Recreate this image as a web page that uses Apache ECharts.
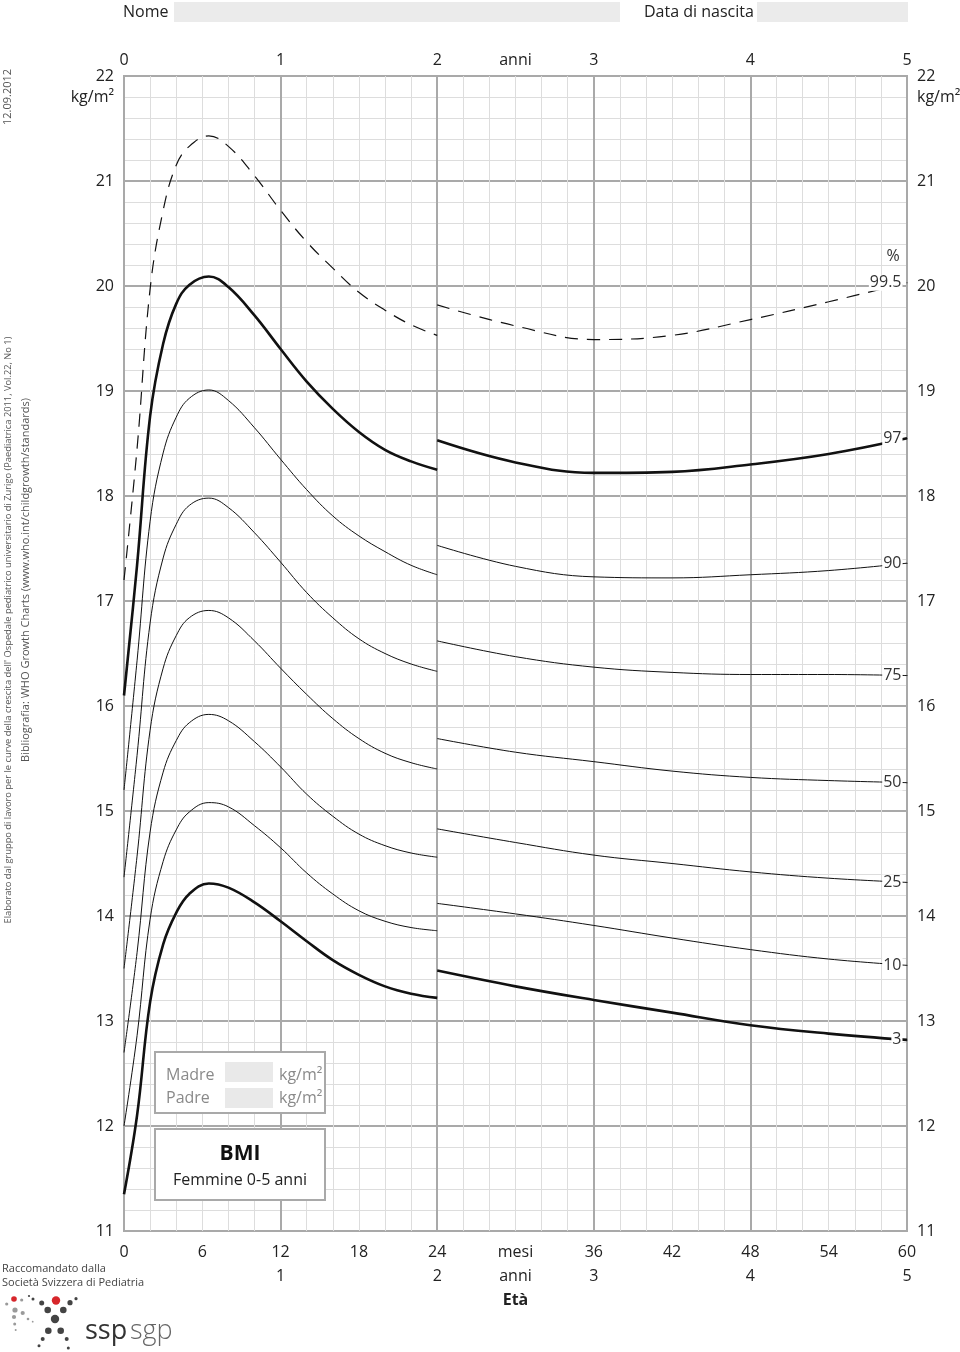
<!DOCTYPE html>
<html><head><meta charset="utf-8">
<script src="https://cdn.jsdelivr.net/npm/echarts@6/dist/echarts.min.js"></script>
<style>html,body{margin:0;padding:0;background:#fff}#c{width:960px;height:1352px}</style>
</head><body><div id="c"></div>
<script>
// ---- data (months of age, BMI kg/m2) ----
const monthsA = [0,1,2,3,4,5,6.5,8,10,12,14,16,18,20,22,24];
const monthsB = [24,30,36,42,48,54,60];
const p3A   = [11.35,12.10,13.18,13.73,14.03,14.21,14.31,14.27,14.13,13.95,13.76,13.58,13.44,13.33,13.26,13.22];
const p10A  = [12.00,12.86,13.97,14.52,14.82,14.99,15.08,15.04,14.86,14.65,14.41,14.21,14.05,13.95,13.89,13.86];
const p25A  = [12.70,13.65,14.80,15.37,15.67,15.84,15.92,15.86,15.66,15.42,15.16,14.95,14.78,14.67,14.60,14.56];
const p50A  = [13.50,14.57,15.77,16.36,16.67,16.84,16.91,16.84,16.62,16.36,16.11,15.88,15.69,15.55,15.46,15.40];
const p75A  = [14.37,15.53,16.79,17.41,17.73,17.91,17.98,17.89,17.65,17.37,17.08,16.84,16.64,16.50,16.40,16.33];
const p90A  = [15.20,16.43,17.76,18.41,18.75,18.93,19.01,18.91,18.65,18.35,18.06,17.81,17.62,17.47,17.34,17.25];
const p97A  = [16.10,17.34,18.76,19.45,19.83,20.01,20.09,19.99,19.72,19.40,19.09,18.83,18.61,18.44,18.33,18.25];
const p995A = [17.20,18.45,19.97,20.72,21.15,21.33,21.43,21.33,21.05,20.72,20.42,20.17,19.94,19.77,19.63,19.53];
const p3B   = [13.48,13.33,13.20,13.08,12.96,12.88,12.82];
const p10B  = [14.12,14.02,13.91,13.79,13.68,13.59,13.53];
const p25B  = [14.83,14.70,14.58,14.50,14.42,14.36,14.32];
const p50B  = [15.69,15.56,15.47,15.38,15.32,15.29,15.27];
const p75B  = [16.62,16.47,16.37,16.32,16.30,16.30,16.29];
const p90B  = [17.53,17.33,17.23,17.22,17.25,17.29,17.36];
const p97B  = [18.53,18.32,18.22,18.23,18.30,18.40,18.55];
const p995B = [19.82,19.62,19.49,19.53,19.68,19.85,20.03];
const percentileNames = ['3','10','25','50','75','90','97','99.5'];
const topYearLabels = {0:'0',12:'1',24:'2',30:'anni',36:'3',48:'4',60:'5'};
const bottomMonthLabels = {0:'0',6:'6',12:'12',18:'18',24:'24',30:'mesi',36:'36',42:'42',48:'48',54:'54',60:'60'};
const bottomYearLabels = {12:'1',24:'2',30:'anni',36:'3',48:'4',60:'5'};

// ---- chart ----
const FONT = 'Open Sans';
const chart = echarts.init(document.getElementById('c'), null, {renderer:'canvas'});
const segA = [p3A,p10A,p25A,p50A,p75A,p90A,p97A,p995A];
const segB = [p3B,p10B,p25B,p50B,p75B,p90B,p97B,p995B];
function styleFor(name){
  if (name === '99.5') return {color:'#111', width:1.2, type:[13,9]};
  if (name === '97' || name === '3') return {color:'#111', width:2.6};
  return {color:'#111', width:1};
}
const series = [];
percentileNames.forEach((nm, k) => {
  series.push({
    type:'line', name:'P'+nm+'a', smooth:0.4, symbol:'none', silent:true, z:5,
    lineStyle: styleFor(nm),
    data: monthsA.map((m,i)=>[m, segA[k][i]])
  });
  const dataB = monthsB.map((m,i)=>({value:[m, segB[k][i]], symbolSize:0}));
  const last = dataB.length-1;
  dataB[last] = {value: dataB[last].value, symbolSize:1,
     label:{show:true, formatter:nm, position:'left', distance:4,
     backgroundColor:'#fff', padding:[0,1,0,1], color:'#333', fontSize:16, fontFamily:FONT}};
  series.push({
    type:'line', name:'P'+nm+'b', smooth:0.4, symbol:'circle', showSymbol:true, silent:true, z:5,
    lineStyle: styleFor(nm), itemStyle:{color:'#111'},
    data: dataB
  });
});

const gray = '#a9a9a9', light = '#dddddd', txt = '#222';
const option = {
  animation:false,
  backgroundColor:'#fff',
  grid:{left:124, right:53, top:76, bottom:121, show:true, borderColor:gray, borderWidth:2},
  xAxis:[
    {type:'value', min:0, max:60, interval:12, position:'bottom',
     axisLine:{show:false}, axisTick:{show:false}, axisLabel:{show:false},
     splitLine:{show:true, lineStyle:{color:gray, width:2}},
     minorTick:{show:false, splitNumber:6},
     minorSplitLine:{show:true, lineStyle:{color:light, width:1}}},
    {type:'value', min:0, max:60, interval:6, position:'bottom',
     axisLine:{show:false}, axisTick:{show:false}, splitLine:{show:false},
     axisLabel:{show:true, interval:0, margin:9, color:txt, fontSize:16, fontFamily:FONT, lineHeight:24,
       formatter:v => {
         const a = bottomMonthLabels[v] ?? '';
         const b = bottomYearLabels[v] ?? ' ';
         return v === 30 ? a + '\n' + b + '\n{b|Età}' : a + '\n' + b;
       },
       rich:{b:{fontWeight:'bold', fontSize:16, fontFamily:FONT, color:txt, lineHeight:24}}}},
    {type:'value', min:0, max:60, interval:6, position:'top',
     axisLine:{show:false}, axisTick:{show:false}, splitLine:{show:false},
     axisLabel:{show:true, interval:0, margin:8, color:txt, fontSize:16, fontFamily:FONT,
       formatter:v => topYearLabels[v] ?? ''}}
  ],
  yAxis:[
    {type:'value', min:11, max:22, interval:1, position:'left',
     axisLine:{show:false}, axisTick:{show:false},
     axisLabel:{margin:10, color:txt, fontSize:16, fontFamily:FONT},
     splitLine:{show:true, lineStyle:{color:gray, width:2}},
     minorTick:{show:false, splitNumber:5},
     minorSplitLine:{show:true, lineStyle:{color:light, width:1}}},
    {type:'value', min:11, max:22, interval:1, position:'right',
     axisLine:{show:false}, axisTick:{show:false}, splitLine:{show:false},
     axisLabel:{margin:10, color:txt, fontSize:16, fontFamily:FONT}}
  ],
  series: series
};
chart.setOption(option);

// ---- decorations ----
const pctPos = chart.convertToPixel({xAxisIndex:0, yAxisIndex:0}, [60, p995B[p995B.length-1]]);
const dots = [
  [14,1299,2.8,'#d7262b'],[56,1300.5,4.2,'#d7262b'],
  [21.7,1300,1.6,'#9a9a9a'],[29,1296,1.1,'#444'],[33,1299,1.5,'#444'],[41.7,1303,2.5,'#444'],
  [70,1302.7,2.6,'#444'],[76,1298.7,1.6,'#444'],
  [6.7,1304,1.6,'#9a9a9a'],[15,1310,2.6,'#9a9a9a'],[22.7,1313,2.1,'#9a9a9a'],[28,1319,1.3,'#9a9a9a'],[32.7,1321.7,0.9,'#9a9a9a'],
  [14,1317,2.1,'#9a9a9a'],[14.7,1324,1.5,'#9a9a9a'],[15.7,1330,1,'#9a9a9a'],
  [47.7,1310,3.3,'#444'],[63.3,1310,3.3,'#444'],[55,1319,4.2,'#444'],[48.3,1330.7,3.3,'#444'],[60.7,1330.7,3.3,'#444'],
  [42.7,1339,2,'#444'],[66.7,1339,2,'#444'],[39,1345.7,1.5,'#444'],[68.3,1348,1.5,'#444']
];
const graphics = [
  {type:'text', left:123, top:4, style:{text:'Nome', font:'16px "'+FONT+'"', fill:txt}},
  {type:'rect', shape:{x:174, y:2, width:446, height:20}, style:{fill:'#ebebeb'}},
  {type:'text', left:644, top:4, style:{text:'Data di nascita', font:'16px "'+FONT+'"', fill:txt}},
  {type:'rect', shape:{x:757, y:2, width:151, height:20}, style:{fill:'#ebebeb'}},
  {type:'text', x:114, y:97, style:{text:'kg/m²', font:'16px "'+FONT+'"', fill:txt, align:'right', verticalAlign:'middle'}},
  {type:'text', x:917, y:97, style:{text:'kg/m²', font:'16px "'+FONT+'"', fill:txt, align:'left', verticalAlign:'middle'}},
  {type:'text', x:pctPos[0]-14, y:pctPos[1]-26, style:{text:'%', font:'16px "'+FONT+'"', fill:'#333', align:'center', verticalAlign:'middle'}, z:50},
  {type:'text', x:8, y:97, rotation:Math.PI/2, style:{text:'12.09.2012', font:'11px "'+FONT+'"', fill:'#555', align:'center', verticalAlign:'middle'}},
  {type:'text', x:8, y:630, rotation:Math.PI/2, style:{text:"Elaborato dal gruppo di lavoro per le curve della crescita dell' Ospedale pediatrico universitario di Zurigo (Paediatrica 2011, Vol.22, No 1)", font:'9.3px "'+FONT+'"', fill:'#555', align:'center', verticalAlign:'middle'}},
  {type:'text', x:26, y:580, rotation:Math.PI/2, style:{text:'Bibliografia: WHO Growth Charts (www.who.int/childgrowth/standards)', font:'11px "'+FONT+'"', fill:'#555', align:'center', verticalAlign:'middle'}},
  {type:'text', left:2, top:1262, style:{text:'Raccomandato dalla\nSocietà Svizzera di Pediatria', font:'11px "'+FONT+'"', fill:'#444', lineHeight:14}},
  {type:'text', x:85, y:1345, style:{text:'ssp', font:'500 27px "'+FONT+'"', fill:'#333', verticalAlign:'bottom'}},
  {type:'text', x:130, y:1345, style:{text:'sgp', font:'300 27px "'+FONT+'"', fill:'#666', verticalAlign:'bottom'}},
  // Madre / Padre box
  {type:'rect', z:100, shape:{x:155, y:1052, width:170, height:61}, style:{fill:'#fff', stroke:gray, lineWidth:2}},
  {type:'text', z:101, x:166, y:1075, style:{text:'Madre', font:'16px "'+FONT+'"', fill:'#8a8a8a', verticalAlign:'middle'}},
  {type:'rect', z:101, shape:{x:225, y:1062, width:48, height:20}, style:{fill:'#e9e9e9'}},
  {type:'text', z:101, x:279, y:1075, style:{text:'kg/m²', font:'16px "'+FONT+'"', fill:'#8a8a8a', verticalAlign:'middle'}},
  {type:'text', z:101, x:166, y:1098, style:{text:'Padre', font:'16px "'+FONT+'"', fill:'#8a8a8a', verticalAlign:'middle'}},
  {type:'rect', z:101, shape:{x:225, y:1088, width:48, height:20}, style:{fill:'#e9e9e9'}},
  {type:'text', z:101, x:279, y:1098, style:{text:'kg/m²', font:'16px "'+FONT+'"', fill:'#8a8a8a', verticalAlign:'middle'}},
  // BMI box
  {type:'rect', z:100, shape:{x:155, y:1129, width:170, height:71}, style:{fill:'#fff', stroke:gray, lineWidth:2}},
  {type:'text', z:101, x:240, y:1154, style:{text:'BMI', font:'bold 21px "'+FONT+'"', fill:'#111', align:'center', verticalAlign:'middle'}},
  {type:'text', z:101, x:240, y:1180, style:{text:'Femmine 0-5 anni', font:'16px "'+FONT+'"', fill:'#222', align:'center', verticalAlign:'middle'}}
];
dots.forEach(d => graphics.push({type:'circle', shape:{cx:d[0], cy:d[1], r:d[2]}, style:{fill:d[3]}}));
chart.setOption({graphic: graphics});
</script>
</body></html>
